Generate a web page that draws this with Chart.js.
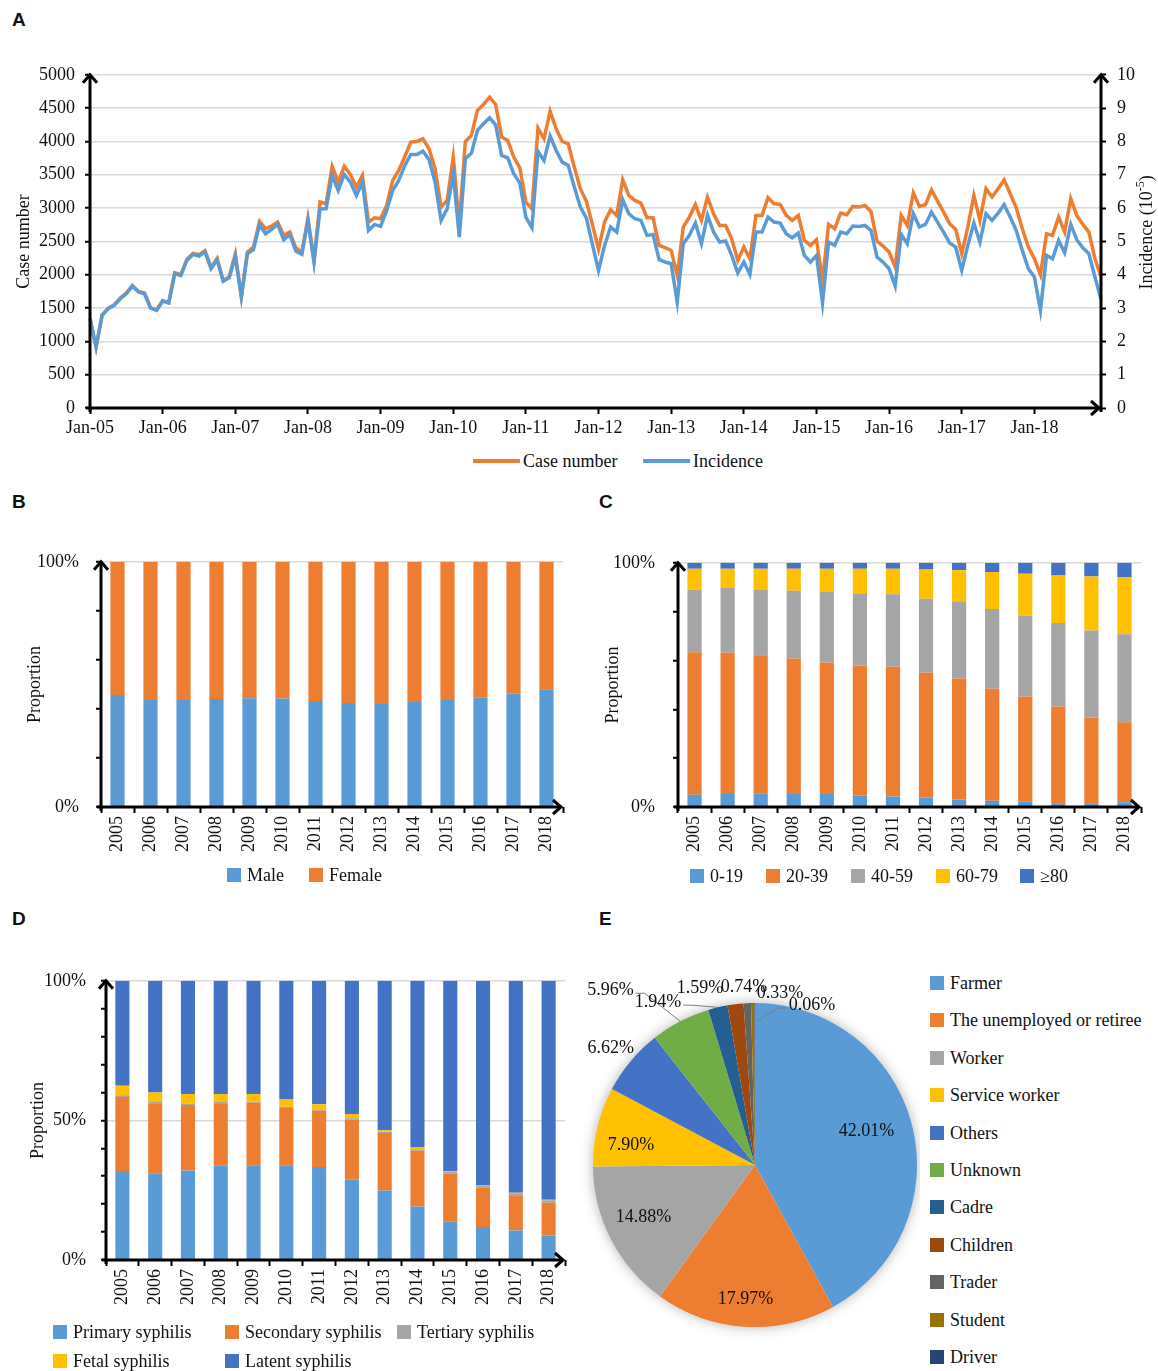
<!DOCTYPE html>
<html>
<head>
<meta charset="utf-8">
<script src="https://cdn.jsdelivr.net/npm/chart.js@4.4.1/dist/chart.umd.min.js"></script>
<style>
  body { margin: 0; background: #fff; }
  #page { position: relative; width: 1158px; height: 1371px; overflow: hidden;
          font-family: 'Liberation Serif', 'Times New Roman', serif; color: #111; }
  canvas { position: absolute; }
  .tag { position: absolute; font: bold 19px 'Liberation Sans', Arial, sans-serif; color: #111; }
  .lg { position: absolute; font-size: 18px; line-height: 22px; white-space: nowrap; }
  .sw { position: absolute; }
</style>
</head>
<body>
<div id="page">
  <div class="tag" style="left:12px;top:9px">A</div>
  <div class="tag" style="left:12px;top:491px">B</div>
  <div class="tag" style="left:599px;top:491px">C</div>
  <div class="tag" style="left:12px;top:908px">D</div>
  <div class="tag" style="left:599px;top:908px">E</div>

  <canvas id="chartA" width="1158" height="397" style="left:0;top:53px"></canvas>
  <canvas id="chartB" width="580" height="336" style="left:0;top:534px"></canvas>
  <canvas id="chartC" width="578" height="336" style="left:580px;top:534px"></canvas>
  <canvas id="chartD" width="580" height="385" style="left:0;top:955px"></canvas>
  <canvas id="chartE" width="340" height="411" style="left:580px;top:960px"></canvas>
</div>

<script>
// ── Panel A: monthly case number & incidence, Jan-05 .. Dec-18 ──
const YEARS = ['2005','2006','2007','2008','2009','2010','2011','2012','2013','2014','2015','2016','2017','2018'];
const MONTH_NAMES = ['Jan','Feb','Mar','Apr','May','Jun','Jul','Aug','Sep','Oct','Nov','Dec'];
const MONTHS = [];
YEARS.forEach(y => MONTH_NAMES.forEach(m => MONTHS.push(m + '-' + y.slice(2))));

const CASES = [
  1345, 915, 1395, 1495, 1550, 1650, 1725, 1840, 1750, 1725, 1505, 1470,
  1610, 1580, 2030, 2000, 2230, 2320, 2300, 2360, 2110, 2245, 1915, 1970,
  2310, 1680, 2340, 2415, 2800, 2690, 2730, 2790, 2590, 2640, 2400, 2340,
  2850, 2215, 3090, 3065, 3625, 3390, 3625, 3505, 3315, 3490, 2790, 2855,
  2840, 3040, 3415, 3565, 3775, 3990, 4000, 4040, 3890, 3590, 3015, 3115,
  3765, 2750, 4000, 4090, 4465, 4555, 4665, 4555, 4065, 4015, 3765, 3605,
  3090, 2990, 4200, 4040, 4455, 4190, 4000, 3965, 3615, 3290, 3100, 2750,
  2380, 2790, 2975, 2890, 3425, 3190, 3115, 3075, 2855, 2855, 2440, 2405,
  2365, 1990, 2715, 2865, 3055, 2815, 3165, 2915, 2740, 2740, 2540, 2215,
  2415, 2240, 2890, 2890, 3155, 3065, 3055, 2890, 2815, 2890, 2515, 2440,
  2525, 1915, 2755, 2690, 2925, 2900, 3025, 3015, 3040, 2950, 2505, 2430,
  2340, 2115, 2890, 2740, 3230, 3025, 3050, 3275, 3105, 2940, 2765, 2680,
  2315, 2715, 3190, 2815, 3290, 3165, 3290, 3425, 3215, 3005, 2690, 2415,
  2240, 2000, 2615, 2590, 2865, 2640, 3140, 2890, 2755, 2640, 2240, 1965
];
const INCIDENCE = [
  2.68, 1.83, 2.78, 2.98, 3.08, 3.28, 3.43, 3.66, 3.48, 3.43, 3.00, 2.93,
  3.21, 3.15, 4.03, 3.98, 4.43, 4.61, 4.56, 4.68, 4.18, 4.45, 3.80, 3.91,
  4.55, 3.33, 4.63, 4.75, 5.50, 5.23, 5.36, 5.51, 5.05, 5.21, 4.71, 4.61,
  5.63, 4.38, 5.98, 5.98, 6.98, 6.53, 7.01, 6.78, 6.38, 6.78, 5.33, 5.51,
  5.45, 5.93, 6.53, 6.83, 7.28, 7.61, 7.61, 7.71, 7.45, 6.78, 5.63, 5.98,
  7.03, 5.13, 7.48, 7.65, 8.33, 8.53, 8.71, 8.50, 7.58, 7.51, 7.03, 6.75,
  5.73, 5.41, 7.70, 7.43, 8.16, 7.73, 7.38, 7.28, 6.63, 6.03, 5.70, 4.90,
  4.13, 4.88, 5.43, 5.28, 6.25, 5.83, 5.68, 5.63, 5.18, 5.21, 4.46, 4.38,
  4.33, 3.18, 4.93, 5.18, 5.55, 4.93, 5.78, 5.28, 4.98, 5.01, 4.58, 4.05,
  4.38, 4.01, 5.28, 5.28, 5.73, 5.58, 5.55, 5.23, 5.11, 5.25, 4.58, 4.38,
  4.58, 3.15, 4.98, 4.88, 5.28, 5.23, 5.46, 5.45, 5.48, 5.33, 4.53, 4.38,
  4.18, 3.66, 5.21, 4.93, 5.83, 5.43, 5.51, 5.88, 5.58, 5.28, 4.95, 4.83,
  4.13, 4.88, 5.55, 4.98, 5.83, 5.63, 5.85, 6.10, 5.73, 5.33, 4.73, 4.18,
  3.93, 2.93, 4.58, 4.48, 5.03, 4.66, 5.51, 5.05, 4.81, 4.63, 3.93, 3.26
];

// ── Panel B: sex (%) ──
const MALE   = [45.7, 43.6, 43.6, 44.0, 44.4, 44.3, 43.2, 42.4, 42.0, 42.8, 43.6, 44.6, 46.2, 48.0];
const FEMALE = [54.3, 56.4, 56.4, 56.0, 55.6, 55.7, 56.8, 57.6, 58.0, 57.2, 56.4, 55.4, 53.8, 52.0];

// ── Panel C: age groups (%) ──
const AGE_0_19  = [5.0, 5.3, 5.6, 5.3, 5.3, 4.7, 4.3, 3.9, 3.1, 2.6, 2.2, 1.5, 1.5, 1.9];
const AGE_20_39 = [58.4, 57.9, 56.5, 55.5, 53.9, 53.2, 53.1, 51.1, 49.5, 45.8, 43.1, 39.7, 35.1, 32.8];
const AGE_40_59 = [25.7, 26.5, 26.8, 27.8, 29.0, 29.6, 29.7, 30.3, 31.7, 32.7, 33.0, 34.1, 35.7, 36.0];
const AGE_60_79 = [8.5, 7.9, 8.7, 9.0, 9.4, 10.1, 10.5, 12.0, 12.6, 15.1, 17.2, 19.5, 22.1, 23.5];
const AGE_80UP  = [2.4, 2.4, 2.4, 2.4, 2.4, 2.4, 2.4, 2.7, 3.1, 3.8, 4.5, 5.2, 5.6, 5.8];

// ── Panel D: clinical stage (%) ──
const PRIMARY   = [31.9, 31.1, 32.1, 33.9, 33.9, 33.9, 33.3, 28.8, 24.9, 19.2, 13.7, 11.8, 10.6, 8.8];
const SECONDARY = [26.5, 25.0, 23.4, 22.2, 22.4, 20.5, 20.2, 21.4, 20.6, 19.9, 17.2, 14.1, 12.6, 11.7];
const TERTIARY  = [0.6, 0.5, 0.5, 0.5, 0.5, 0.5, 0.4, 0.6, 0.4, 0.6, 0.7, 0.8, 0.7, 0.9];
const FETAL     = [3.4, 3.4, 3.5, 2.9, 2.7, 2.6, 1.9, 1.5, 0.6, 0.6, 0.3, 0.1, 0.2, 0.2];
const LATENT    = [37.6, 40.0, 40.5, 40.5, 40.5, 42.5, 44.2, 47.7, 53.5, 59.7, 68.1, 73.2, 75.9, 78.4];

// ── Panel E: occupation (%) ──
const OCCUPATIONS = ['Farmer', 'The unemployed or retiree', 'Worker', 'Service worker', 'Others',
  'Unknown', 'Cadre', 'Children', 'Trader', 'Student', 'Driver'];
const OCC_SHARE = [42.01, 17.97, 14.88, 7.90, 6.62, 5.96, 1.94, 1.59, 0.74, 0.33, 0.06];

const BLUE = '#5B9BD5', ORANGE = '#ED7D31', GRAY = '#A5A5A5', GOLD = '#FFC000', DKBLUE = '#4472C4';
const OCC_COLORS = [BLUE, ORANGE, GRAY, GOLD, DKBLUE, '#70AD47', '#255E91', '#9E480E', '#636363', '#997300', '#264478'];
const SERIF = "'Liberation Serif', 'Times New Roman', serif";
const INK = '#111';
const TXT = { family: SERIF, size: 18 };

Chart.defaults.font.family = SERIF;
Chart.defaults.font.size = 18;
Chart.defaults.color = INK;

// thick black axes with open arrow heads (Excel style)
const axisArrows = {
  id: 'axisArrows',
  afterDraw(chart, args, opts) {
    const { ctx, chartArea: a } = chart;
    const head = (x, y, dir) => {
      ctx.beginPath();
      if (dir === 'up') { ctx.moveTo(x - 7, y + 8); ctx.lineTo(x, y); ctx.lineTo(x + 7, y + 8); }
      else { ctx.moveTo(x - 8, y - 7); ctx.lineTo(x, y); ctx.lineTo(x - 8, y + 7); }
      ctx.stroke();
    };
    const seg = (x1, y1, x2, y2) => { ctx.beginPath(); ctx.moveTo(x1, y1); ctx.lineTo(x2, y2); ctx.stroke(); };
    ctx.save();
    ctx.strokeStyle = '#000';
    ctx.lineWidth = 3;
    ctx.lineJoin = 'miter';
    seg(a.left, a.bottom + 4, a.left, a.top);
    head(a.left, a.top, 'up');
    if (opts.right) {
      seg(a.right, a.bottom + 4, a.right, a.top);
      head(a.right, a.top, 'up');
    }
    seg(a.left - 4, a.bottom, a.right - 2, a.bottom);
    head(a.right - 2, a.bottom, 'right');
    ctx.restore();
  }
};

// right-hand title of panel A, read bottom-to-top with a superscript
const rightTitle = {
  id: 'rightTitle',
  afterDraw(chart) {
    const { ctx, chartArea: a } = chart;
    const main = 'Incidence (10', sup = '-5', tail = ')';
    ctx.save();
    ctx.fillStyle = INK;
    ctx.textBaseline = 'middle';
    ctx.font = '18px ' + SERIF;
    const w1 = ctx.measureText(main).width, w3 = ctx.measureText(tail).width;
    ctx.font = '12px ' + SERIF;
    const w2 = ctx.measureText(sup).width;
    ctx.translate(chart.width - 11, (a.top + a.bottom) / 2 - 9);
    ctx.rotate(-Math.PI / 2);
    let x = -(w1 + w2 + w3) / 2;
    ctx.textAlign = 'left';
    ctx.font = '18px ' + SERIF;
    ctx.fillText(main, x, 0); x += w1;
    ctx.font = '12px ' + SERIF;
    ctx.fillText(sup, x, -6); x += w2;
    ctx.font = '18px ' + SERIF;
    ctx.fillText(tail, x, 0);
    ctx.restore();
  }
};

// ---------- A ----------
new Chart(document.getElementById('chartA'), {
  type: 'line',
  data: {
    labels: MONTHS,
    datasets: [
      { label: 'Case number', data: CASES, yAxisID: 'y', borderColor: ORANGE, borderWidth: 3.5,
        pointRadius: 0, tension: 0, order: 2 },
      { label: 'Incidence', data: INCIDENCE, yAxisID: 'y1', borderColor: BLUE, borderWidth: 3.5,
        pointRadius: 0, tension: 0, order: 1 }
    ]
  },
  options: {
    responsive: false, animation: false, events: [],
    layout: { padding: 0 },
    plugins: { legend: { display: false }, tooltip: { enabled: false }, axisArrows: { right: true } },
    scales: {
      x: {
        offset: false,
        grid: { drawOnChartArea: false, tickLength: 6, tickWidth: 2,
                tickColor: c => (c.index % 12 === 0 ? '#000' : 'rgba(0,0,0,0)') },
        border: { display: false },
        ticks: { autoSkip: false, maxRotation: 0, minRotation: 0, padding: 3, font: TXT, color: INK,
                 callback: (v, i) => (i % 12 === 0 ? MONTHS[i] : '') },
        afterFit: s => { s.height = 42; }
      },
      y: {
        position: 'left', min: 0, max: 5000,
        grid: { color: '#d9d9d9', lineWidth: 1.5, tickColor: '#000', tickLength: 5, tickWidth: 2 },
        border: { display: false },
        ticks: { stepSize: 500, padding: 10, font: TXT, color: INK, callback: v => String(v) },
        title: { display: true, text: 'Case number', font: TXT, color: INK, padding: { top: 13, bottom: 0 } },
        afterFit: s => { s.width = 90; }
      },
      y1: {
        position: 'right', min: 0, max: 10,
        grid: { drawOnChartArea: false, tickColor: '#000', tickLength: 5, tickWidth: 2 },
        border: { display: false },
        ticks: { stepSize: 1, padding: 11, font: TXT, color: INK, callback: v => String(v) },
        afterFit: s => { s.width = 57; }
      }
    }
  },
  plugins: [axisArrows, rightTitle]
});

// ---------- B, C, D ----------
function stackedBars(id, names, colors, series, cfg) {
  return new Chart(document.getElementById(id), {
    type: 'bar',
    data: {
      labels: YEARS,
      datasets: series.map((d, i) => ({
        label: names[i], data: d, backgroundColor: colors[i], borderWidth: 0,
        barPercentage: 0.43, categoryPercentage: 1
      }))
    },
    options: {
      responsive: false, animation: false, events: [],
      layout: { padding: { top: 0, right: cfg.right, left: 0, bottom: 0 } },
      plugins: { legend: { display: false }, tooltip: { enabled: false }, axisArrows: { right: false } },
      scales: {
        x: {
          stacked: true,
          grid: { drawOnChartArea: false, tickColor: '#000', tickLength: 6, tickWidth: 2 },
          border: { display: false },
          ticks: { autoSkip: false, minRotation: 90, maxRotation: 90, padding: 3, font: TXT, color: INK },
          afterFit: s => { s.height = cfg.xh; }
        },
        y: {
          stacked: true, min: 0, max: 100,
          grid: {
            color: c => (c.tick && (c.tick.value === 50 || c.tick.value === 100) ? '#d9d9d9' : 'rgba(0,0,0,0)'),
            lineWidth: 1.5, tickColor: '#000', tickLength: 5, tickWidth: 2
          },
          border: { display: false },
          ticks: { stepSize: 10, padding: cfg.tp, font: TXT, color: INK,
                   callback: v => (v % 50 === 0 ? v + '%' : '') },
          title: { display: true, text: 'Proportion', font: TXT, color: INK, padding: { top: cfg.titlePad, bottom: 0 } },
          afterFit: s => { s.width = cfg.yw; }
        }
      }
    },
    plugins: [axisArrows]
  });
}

const SEX_NAMES = ['Male', 'Female'];
const SEX_COLORS = [BLUE, ORANGE];
stackedBars('chartB', SEX_NAMES, SEX_COLORS, [MALE, FEMALE],
  { right: 17, xh: 63, yw: 101, tp: 17, titlePad: 24 });

const AGE_NAMES = ['0-19', '20-39', '40-59', '60-79', '\u226580'];
const AGE_COLORS = [BLUE, ORANGE, GRAY, GOLD, DKBLUE];
stackedBars('chartC', AGE_NAMES, AGE_COLORS, [AGE_0_19, AGE_20_39, AGE_40_59, AGE_60_79, AGE_80UP],
  { right: 17, xh: 63, yw: 98, tp: 18, titlePad: 22 });

const STAGE_NAMES = ['Primary syphilis', 'Secondary syphilis', 'Tertiary syphilis', 'Fetal syphilis', 'Latent syphilis'];
const STAGE_COLORS = [BLUE, ORANGE, GRAY, GOLD, DKBLUE];
stackedBars('chartD', STAGE_NAMES, STAGE_COLORS, [PRIMARY, SECONDARY, TERTIARY, FETAL, LATENT],
  { right: 15, xh: 80, yw: 106, tp: 15, titlePad: 27 });

// ---------- E ----------
// label anchor: [angle from 12 o'clock (deg, clockwise), radius factor, leader]
const PIE_LABEL_POS = [
  [73, 0.72], [184, 0.83], [245, 0.76], [279, 0.775], [309, 1.145],
  [320.4, 1.40, { side: 1, r: 1.0 }], [329.2, 1.17, { side: 1, r: 1.0 }],
  [342.7, 1.144], [356.5, 1.10], [8.3, 1.073], [19.6, 1.048, { side: -1, r: 0.88 }]
];

const pieShadow = {
  id: 'pieShadow',
  beforeDatasetsDraw(chart) {
    const arc = chart.getDatasetMeta(0).data[0];
    if (!arc) return;
    const { ctx } = chart;
    ctx.save();
    ctx.shadowColor = 'rgba(0,0,0,0.35)';
    ctx.shadowBlur = 14;
    ctx.fillStyle = '#fff';
    ctx.beginPath();
    ctx.arc(arc.x, arc.y, arc.outerRadius - 1, 0, Math.PI * 2);
    ctx.fill();
    ctx.restore();
  }
};

const pieLabels = {
  id: 'pieLabels',
  afterDatasetsDraw(chart) {
    const { ctx } = chart;
    const meta = chart.getDatasetMeta(0);
    ctx.save();
    ctx.font = '18px ' + SERIF;
    ctx.fillStyle = INK;
    ctx.textAlign = 'center';
    ctx.textBaseline = 'middle';
    ctx.strokeStyle = '#7f7f7f';
    ctx.lineWidth = 1;
    meta.data.forEach((arc, i) => {
      const { x, y, outerRadius: R, startAngle, endAngle } = arc.getProps(['x', 'y', 'outerRadius', 'startAngle', 'endAngle'], true);
      const [deg, f, leader] = PIE_LABEL_POS[i];
      const a = deg * Math.PI / 180;
      const lx = x + Math.sin(a) * f * R;
      const ly = y - Math.cos(a) * f * R;
      const text = OCC_SHARE[i].toFixed(2) + '%';
      if (leader) {
        const w = ctx.measureText(text).width;
        const mid = (startAngle + endAngle) / 2;
        const ex = x + Math.cos(mid) * R * leader.r;
        const ey = y + Math.sin(mid) * R * leader.r;
        const sx = leader.side > 0 ? lx + w / 2 + 2 : lx - w / 2 - 2;
        ctx.beginPath();
        ctx.moveTo(sx, ly + 3);
        ctx.lineTo(sx + leader.side * 9, ly + 3);
        ctx.lineTo(ex, ey);
        ctx.stroke();
      }
      ctx.fillText(text, lx, ly);
    });
    ctx.restore();
  }
};

new Chart(document.getElementById('chartE'), {
  type: 'pie',
  data: { labels: OCCUPATIONS, datasets: [{ data: OCC_SHARE, backgroundColor: OCC_COLORS, borderWidth: 0 }] },
  options: {
    responsive: false, animation: false, events: [],
    layout: { padding: { left: 13, right: 3, top: 43, bottom: 44 } },
    plugins: { legend: { display: false }, tooltip: { enabled: false } }
  },
  plugins: [pieShadow, pieLabels]
});

// ---------- HTML legends ----------
const page = document.getElementById('page');
function legendItem(x, cy, color, text, kind) {
  const sw = document.createElement('div');
  sw.className = 'sw';
  if (kind === 'line') {
    sw.style.cssText = `left:${x}px;top:${cy - 2}px;width:47px;height:4px;background:${color}`;
  } else {
    sw.style.cssText = `left:${x}px;top:${cy - 7}px;width:14px;height:14px;background:${color}`;
  }
  page.appendChild(sw);
  const t = document.createElement('div');
  t.className = 'lg';
  t.textContent = text;
  t.style.left = (x + (kind === 'line' ? 50 : 20)) + 'px';
  t.style.top = (cy - 11) + 'px';
  page.appendChild(t);
}

legendItem(473, 461, ORANGE, 'Case number', 'line');
legendItem(643, 461, BLUE, 'Incidence', 'line');

const LEG_B_X = [227, 309];
SEX_NAMES.forEach((n, i) => legendItem(LEG_B_X[i], 875, SEX_COLORS[i], n));

const LEG_C_X = [690, 766, 851, 936, 1020];
AGE_NAMES.forEach((n, i) => legendItem(LEG_C_X[i], 876, AGE_COLORS[i], n));

const LEG_D_POS = [[53, 1332], [225, 1332], [397, 1332], [53, 1361], [225, 1361]];
STAGE_NAMES.forEach((n, i) => legendItem(LEG_D_POS[i][0], LEG_D_POS[i][1], STAGE_COLORS[i], n));

OCCUPATIONS.forEach((n, i) => legendItem(930, 983 + i * 37.4, OCC_COLORS[i], n));
</script>
</body>
</html>
